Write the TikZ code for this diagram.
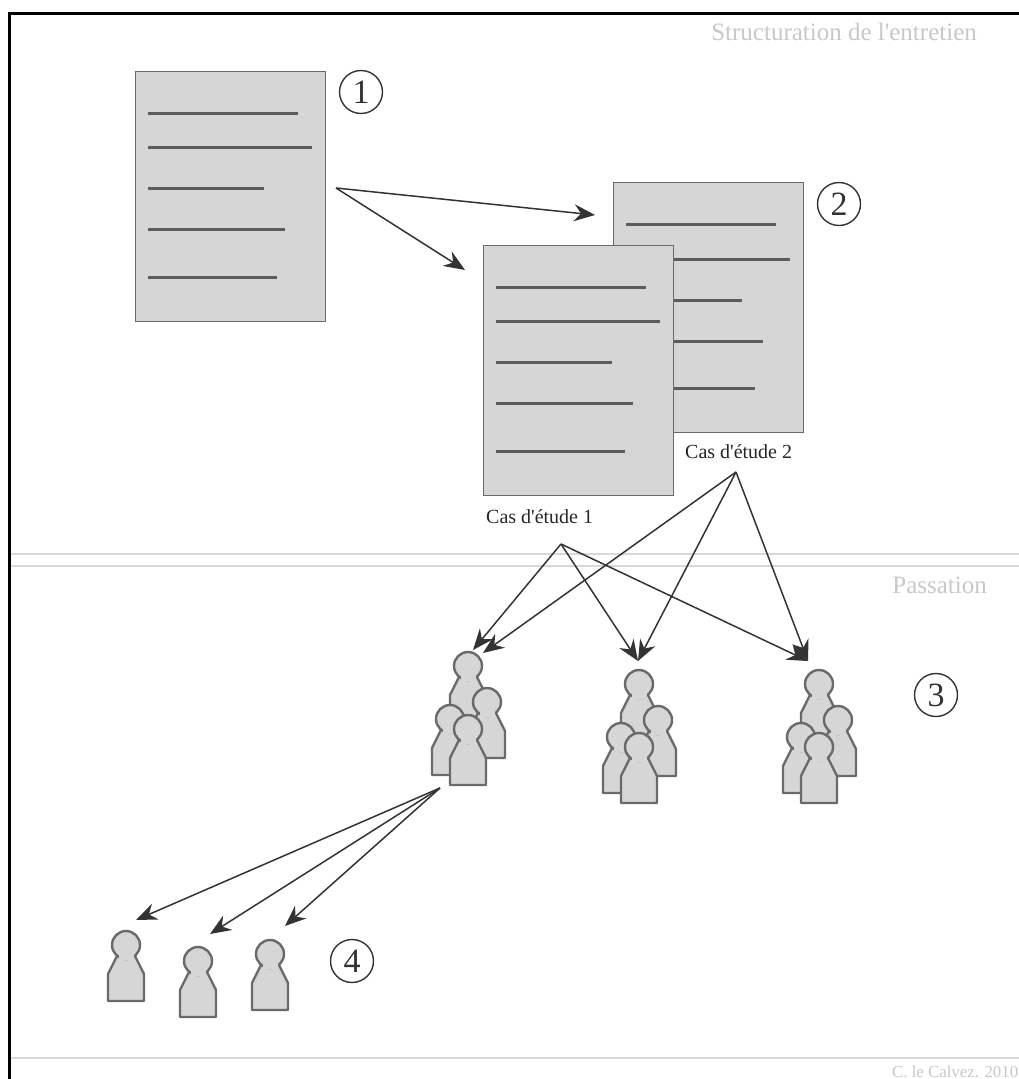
\documentclass[tikz,border=0pt]{standalone}
\usepackage{fontspec}
\setmainfont{Liberation Serif}
\usetikzlibrary{arrows.meta}
\definecolor{fillg}{HTML}{D6D6D6}
\definecolor{edgeg}{HTML}{6A6A6A}
\definecolor{lineg}{HTML}{5C5C5C}
\definecolor{sepg}{HTML}{D8D8D8}
\definecolor{txtg}{HTML}{C8C8C8}
\tikzset{
  x=1pt,y=-1pt,
  docbox/.style={draw=edgeg,fill=fillg,line width=1.3pt,rectangle,inner sep=0pt,minimum width=190pt,minimum height=250pt,anchor=north west},
  docline/.style={draw=lineg,line width=3pt},
  num/.style={draw=black!80,circle,line width=1.4pt,minimum size=43pt,inner sep=0pt,font=\fontsize{34}{34}\selectfont,text=black!80},
  arr/.style={draw=black!80,line width=1.5pt,-{Stealth[length=21pt,width=17pt,inset=7pt]}},
  sep/.style={draw=sepg,line width=1.8pt},
  faint/.style={text=txtg,inner sep=0pt},
  caption/.style={inner sep=0pt,text=black!85,font=\fontsize{20}{20}\selectfont},
  pers/.style={draw=edgeg,fill=fillg,line width=2.4pt,line join=round},
  pics/pawn/.style={code={
    \path[pers] (-8,9) -- (-18,29) -- (-18,56) -- (18,56) -- (18,29) -- (8,9) -- cycle;
    \path[pers] (0,0) circle[radius=14];
    \path[fill=fillg] (-7.5,8) rectangle (7.5,15);
  }},
  pics/crowd/.style={code={
    \pic {pawn};
    \pic at (19,36) {pawn};
    \pic at (-18,53) {pawn};
    \pic at (0,63) {pawn};
  }},
}
\begin{document}
\begin{tikzpicture}
\useasboundingbox (0,0) rectangle (1019,1079);
\clip (0,0) rectangle (1019,1079);
\draw[black,line width=2.4pt] (9.5,1079) -- (9.5,13.5) -- (1019,13.5);
\draw[sep] (10.5,554) -- (1019,554);
\draw[sep] (10.5,566) -- (1019,566);
\draw[sep] (10.5,1058) -- (1019,1058);

\node[faint,font=\fontsize{25}{25}\selectfont,anchor=base east] (titleA) at (977,40) {Structuration de l\textquotesingle entretien};
\node[faint,font=\fontsize{25}{25}\selectfont,anchor=base east] (titleB) at (987,593) {Passation};
\node[faint,font=\fontsize{16.8}{16.8}\selectfont,anchor=base west] (credit) at (892,1077) {C. le Calvez. 2010};

% documents
\node[docbox] (doc1) at (135,70.5) {};
\draw[docline] (148,113) -- (298,113) (148,147) -- (312,147) (148,188) -- (264,188) (148,229) -- (285,229) (148,277) -- (277,277);
\node[docbox] (doc2) at (612.5,182) {};
\draw[docline] (626,224) -- (776,224) (626,259) -- (790,259) (626,300) -- (742,300) (626,341) -- (763,341) (626,388) -- (755,388);
\node[docbox] (doc3) at (483,245) {};
\draw[docline] (496,287) -- (646,287) (496,321) -- (660,321) (496,362) -- (612,362) (496,403) -- (633,403) (496,451) -- (625,451);

\node[num] (n1) at (361,92) {1};
\node[num] (n2) at (839,204) {2};
\node[num] (n3) at (936,695) {3};
\node[num] (n4) at (352,961) {4};

\node[caption,anchor=base west] (cas2) at (685,458) {Cas d\textquotesingle étude 2};
\node[caption,anchor=base west] (cas1) at (486,523) {Cas d\textquotesingle étude 1};

% people
\pic at (468,666) {crowd};
\pic at (639,684) {crowd};
\pic at (819,684) {crowd};
\pic at (126,945) {pawn};
\pic at (198,961) {pawn};
\pic at (270,954) {pawn};

% connector ends
\coordinate (hubA) at (336,188);
\coordinate (hubB) at (736,472);
\coordinate (hubC) at (561,544);
\coordinate (hubD) at (440,788);
\coordinate (endA) at (595,215);
\coordinate (endB) at (465,270);
\coordinate (g1a) at (473,650);
\coordinate (g1b) at (483,653);
\coordinate (g2) at (638,661);
\coordinate (g3) at (808,661);
\coordinate (s1) at (136,920);
\coordinate (s2) at (210,934);
\coordinate (s3) at (285,926);

\draw[arr] (hubA) -- (endA);
\draw[arr] (hubA) -- (endB);
\draw[arr] (hubB) -- (g1b);
\draw[arr] (hubB) -- (g2);
\draw[arr] (hubB) -- (g3);
\draw[arr] (hubC) -- (g1a);
\draw[arr] (hubC) -- (g2);
\draw[arr] (hubC) -- (g3);
\draw[arr] (hubD) -- (s1);
\draw[arr] (hubD) -- (s2);
\draw[arr] (hubD) -- (s3);
\end{tikzpicture}
\end{document}
